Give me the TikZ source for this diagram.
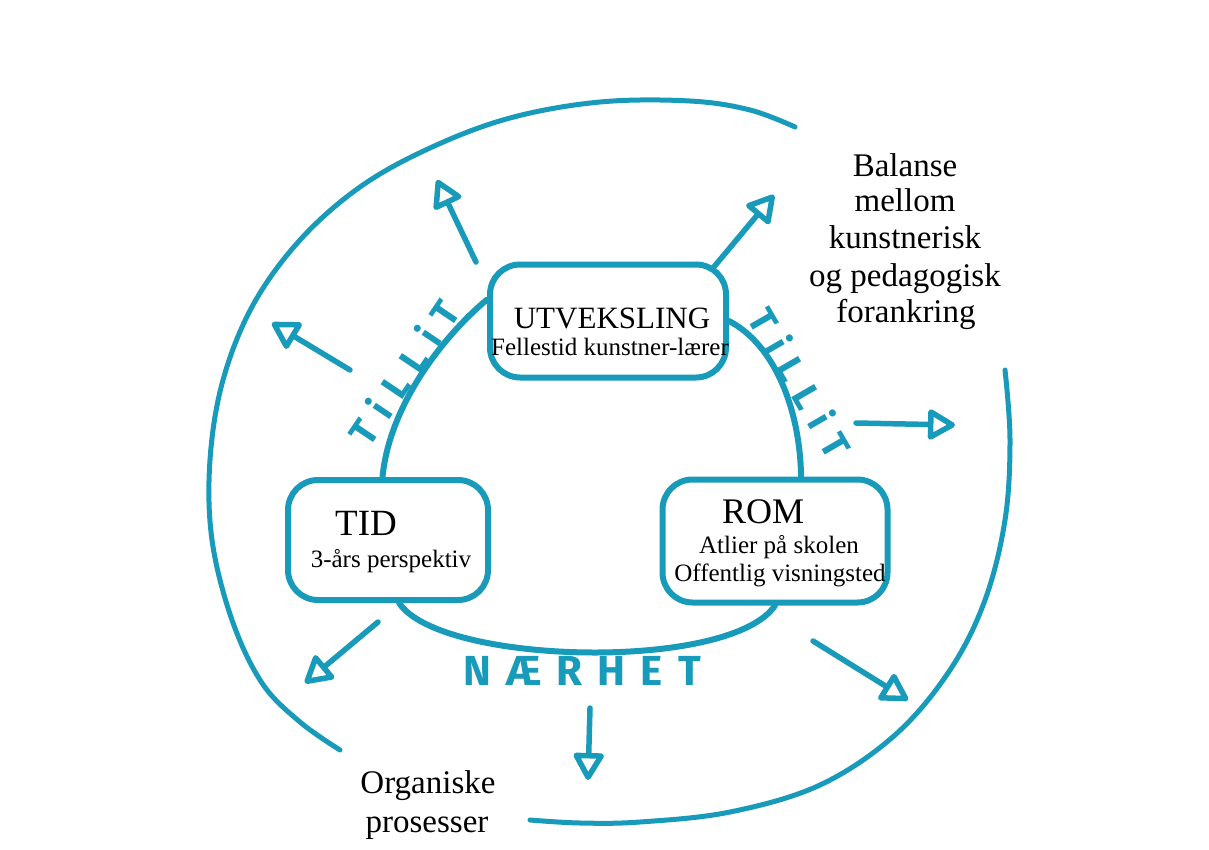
\documentclass[tikz,border=0pt]{standalone}
\usepackage{fontspec}
\setmainfont{Liberation Serif}
\newfontfamily\handfont{Fira Sans}[LetterSpace=33]
\newfontfamily\handwide{Fira Sans}[LetterSpace=36]
\usetikzlibrary{arrows.meta}
\definecolor{penc}{RGB}{24,154,186}
\begin{document}
\begin{tikzpicture}[x=1pt,y=-1pt,
  ink/.style={draw=penc, line width=5.5pt, line cap=round, line join=round},
  box/.style={ink, line width=6pt, rectangle, rounded corners=30pt, inner sep=0pt},
  arr/.style={ink, -{Triangle[open,length=30pt,width=33pt,round]}},
  lbl/.style={inner sep=0pt, anchor=base, text=black},
  big/.style={font=\fontsize{33}{33}\selectfont},
  sub/.style={font=\fontsize{25}{25}\selectfont},
  hand/.style={text=penc, inner sep=0pt, font=\handfont\bfseries\fontsize{38}{38}\selectfont},
  handw/.style={text=penc, inner sep=0pt, font=\handwide\bfseries\fontsize{42}{42}\selectfont}]
\fill[white] (0,0) rectangle (1209,850);
\useasboundingbox (0,0) rectangle (1209,850);

% outer spiral
\draw[ink, line width=5pt] plot[smooth, tension=0.6] coordinates {(340,750) (300,722) (262,683) (232,620) (212,540) (210,460) (223,380) (253,305) (300,240) (360,187) (430,148) (510,118) (600,102) (690,101) (750,110) (795,127)};
\draw[ink, line width=5pt] plot[smooth, tension=0.6] coordinates {(1005,370) (1010,440) (1005,520) (985,600) (950,670) (895,735) (820,785) (730,812) (640,822) (580,823) (530,820)};

% boxes
\node[box, minimum width=236pt, minimum height=113pt] (utv) at (608,321) {};
\node[box, minimum width=200pt, minimum height=120pt] (tid) at (388,540) {};
\node[box, minimum width=225pt, minimum height=123pt] (rom) at (775,541) {};

% inner circle
\draw[ink, line width=6pt] (tid.95) .. controls (390,400) and (450,330) .. (utv.170);
\draw[ink, line width=6pt] (utv.east) .. controls (775,345) and (800,410) .. (rom.68);
\draw[ink, line width=6pt] (tid.-80) .. controls (440,665) and (730,672) .. (rom.south);

% box texts
\node[lbl, font=\fontsize{31}{31}\selectfont] (utvT) at (612,328) {UTVEKSLING};
\node[lbl, sub] (utvS) at (610,355) {Fellestid kunstner-lærer};
\node[lbl, font=\fontsize{37}{37}\selectfont] (tidT) at (366,535) {TID};
\node[lbl, sub] (tidS) at (391,567) {3-års perspektiv};
\node[lbl, font=\fontsize{36}{36}\selectfont] (romT) at (763,523) {ROM};
\node[lbl, sub] (romS1) at (779,553) {Atlier på skolen};
\node[lbl, sub] (romS2) at (780,581) {Offentlig visningsted};

% side texts
\node[lbl, big] (b1) at (905,177) {Balanse};
\node[lbl, big] (b2) at (905,212) {mellom};
\node[lbl, big] (b3) at (905,248) {kunstnerisk};
\node[lbl, big] (b4) at (905,287) {og pedagogisk};
\node[lbl, big] (b5) at (906,322) {forankring};
\node[lbl, big] (o1) at (428,793) {Organiske};
\node[lbl, big] (o2) at (427,832) {prosesser};

% hand lettering
\node[hand, rotate=56] (til1) at (403,372) {TiLLiT};
\node[hand, rotate=-60] (til2) at (801,382) {TiLLiT};
\node[handw] (naer) at (582,671) {NÆRHET};

% arrows
\coordinate (a1s) at (476,262); \coordinate (a1e) at (437,180);
\coordinate (a2s) at (713,268); \coordinate (a2e) at (774,195);
\coordinate (a3s) at (350,370); \coordinate (a3e) at (272,323);
\coordinate (a4s) at (856,423); \coordinate (a4e) at (955,425);
\coordinate (a5s) at (378,622); \coordinate (a5e) at (305,683);
\coordinate (a6s) at (590,708); \coordinate (a6e) at (588,780);
\coordinate (a7s) at (813,641); \coordinate (a7e) at (908,700);
\draw[arr] (a1s) -- (a1e);
\draw[arr] (a2s) -- (a2e);
\draw[arr] (a3s) -- (a3e);
\draw[arr] (a4s) -- (a4e);
\draw[arr] (a5s) -- (a5e);
\draw[arr] (a6s) -- (a6e);
\draw[arr] (a7s) -- (a7e);
\end{tikzpicture}
\end{document}
